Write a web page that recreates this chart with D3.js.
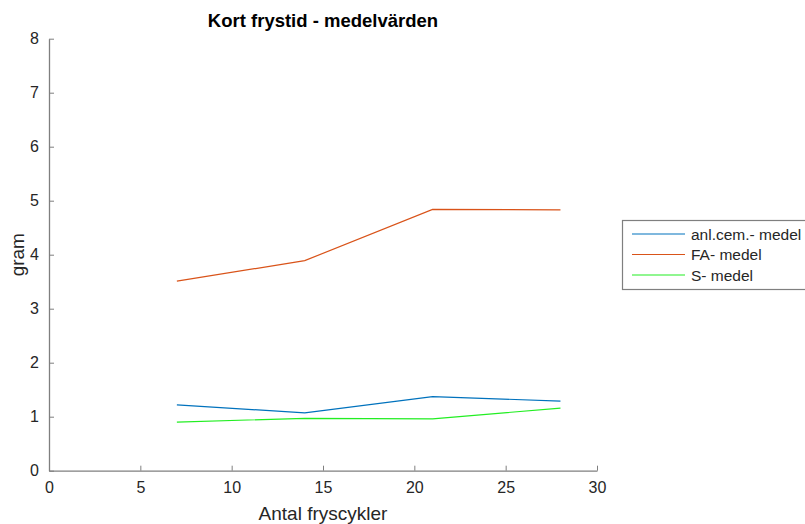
<!DOCTYPE html>
<html lang="sv">
<head>
<meta charset="UTF-8">
<title>Kort frystid - medelvärden</title>
<style>
body{margin:0;background:#fff;}
svg text{font-family:"Liberation Sans",Arial,Helvetica,sans-serif;fill:#262626;}
</style>
</head>
<body>
<script src="https://cdn.jsdelivr.net/npm/d3@7"></script>
<script>
var cycles = [7, 14, 21, 28];
var anlCem = [1.22, 1.07, 1.37, 1.29];
var faMedel = [3.51, 3.89, 4.84, 4.83];
var sMedel = [0.90, 0.97, 0.96, 1.16];
var seriesNames = ["anl.cem.- medel", "FA- medel", "S- medel"];
var seriesColors = ["#0072BD", "#D95319", "#22EE22"];
var xTicks = [0, 5, 10, 15, 20, 25, 30];
var yTicks = [0, 1, 2, 3, 4, 5, 6, 7, 8];

var width = 805, height = 524;
var mLeft = 49, mRight = 597, mTop = 38.7, mBottom = 470.7;

var svg = d3.select('body').append('svg').attr('width', width).attr('height', height);

var x = d3.scaleLinear().domain([0, 30]).range([mLeft, mRight]);
var y = d3.scaleLinear().domain([0, 8]).range([mBottom, mTop]);

// axes, MATLAB style: ticks pointing inward
var xAxis = svg.append('g').attr('transform', 'translate(0,' + mBottom + ')')
    .call(d3.axisBottom(x).tickValues(xTicks).tickSize(-5).tickPadding(11).tickSizeOuter(0));
var yAxis = svg.append('g').attr('transform', 'translate(' + mLeft + ',0)')
    .call(d3.axisLeft(y).tickValues(yTicks).tickSize(-5).tickPadding(10).tickSizeOuter(0));
[xAxis, yAxis].forEach(function(a){
    a.select('.domain').attr('stroke', '#7f7f7f').attr('stroke-width', 1.3);
    a.selectAll('.tick line').attr('stroke', '#7f7f7f').attr('stroke-width', 1);
    a.selectAll('.tick text').attr('font-size', 16).style('fill', '#262626')
        .attr('font-family', '"Liberation Sans",Arial,sans-serif');
});

var data = [anlCem, faMedel, sMedel];
var line = d3.line().x(function(d, i){ return x(cycles[i]); }).y(function(d){ return y(d); });

svg.append('g').selectAll('path').data(data).enter().append('path')
    .attr('d', line).attr('fill', 'none')
    .attr('stroke', function(d, i){ return seriesColors[i]; })
    .attr('stroke-width', 1.2);

// title and labels
svg.append('text').attr('x', (mLeft + mRight) / 2).attr('y', 27).attr('text-anchor', 'middle')
    .attr('font-size', 18.5).attr('font-weight', 'bold').style('fill', '#000').text('Kort frystid - medelvärden');
svg.append('text').attr('x', (mLeft + mRight) / 2).attr('y', 520).attr('text-anchor', 'middle')
    .attr('font-size', 19).text('Antal fryscykler');
svg.append('text').attr('transform', 'translate(24,' + (mTop + mBottom) / 2 + ') rotate(-90)')
    .attr('text-anchor', 'middle').attr('font-size', 19).text('gram');

// legend
var lg = svg.append('g').attr('transform', 'translate(622,220)');
lg.append('rect').attr('x', 0.5).attr('y', 0.5).attr('width', 190).attr('height', 69)
    .attr('fill', '#fff').attr('stroke', '#7f7f7f').attr('stroke-width', 1.2);
var rows = lg.selectAll('g.row').data(seriesNames).enter().append('g')
    .attr('transform', function(d, i){ return 'translate(0,' + (14 + i * 20.5) + ')'; });
rows.append('line').attr('x1', 10).attr('x2', 63).attr('y1', 0).attr('y2', 0)
    .attr('stroke', function(d, i){ return seriesColors[i]; }).attr('stroke-width', 1.2);
rows.append('text').attr('x', 69).attr('y', 5.5).attr('font-size', 15.5).text(function(d){ return d; });
</script>
</body>
</html>
